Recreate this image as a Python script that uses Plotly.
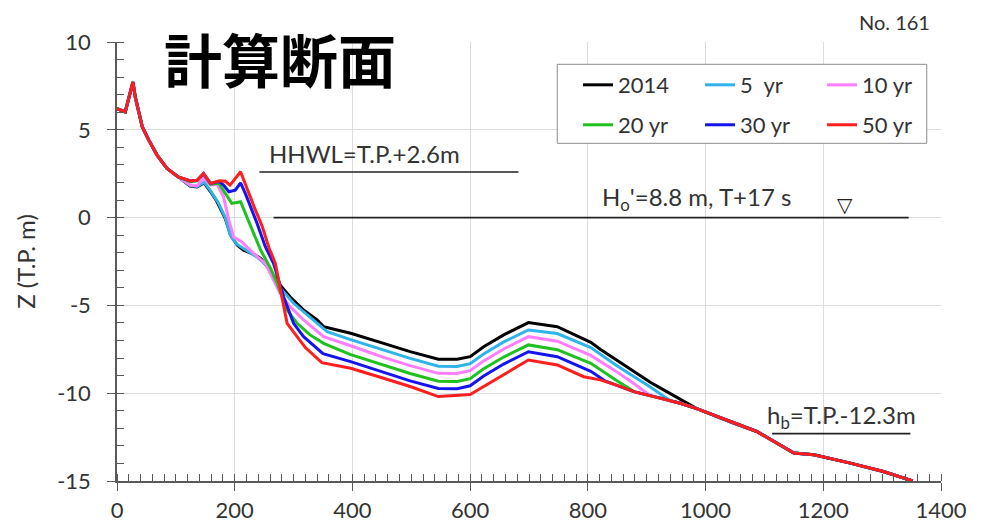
import plotly.graph_objects as go

# ---------------- data (distance from shore [m], elevation Z [T.P. m]) ----------------
# common onshore / nearshore part (all profiles identical)
X_NEAR = [0, 14, 27, 31, 43, 54, 68, 85, 104]
Z_NEAR = [6.21, 6.02, 7.72, 6.87, 5.16, 4.41, 3.56, 2.80, 2.32]

# common offshore part (all profiles identical)
X_OFF = [985, 1048, 1087, 1150, 1184, 1246, 1302, 1352]
Z_OFF = [-10.88, -11.71, -12.18, -13.41, -13.51, -13.98, -14.46, -15.0]

# series-specific middle parts
X_2014 = [124, 136, 148, 159, 170, 184, 193, 204, 215, 235, 245, 260, 277, 294, 317, 340, 351, 374, 397,
          453, 498, 546, 578, 600, 623, 657, 699, 748, 805, 821, 850, 878, 906, 934, 968]
Z_2014 = [1.79, 1.75, 1.98, 1.47, 0.90, -0.05, -1.00, -1.56, -1.85, -2.13, -2.35, -3.00, -3.84, -4.51, -5.26, -5.83, -6.21, -6.40, -6.59,
          -7.16, -7.63, -8.07, -8.07, -7.92, -7.35, -6.68, -5.98, -6.21, -7.10, -7.50, -8.15, -8.77, -9.38, -9.91, -10.57]

X_5 = [124, 136, 148, 159, 172, 184, 192, 203, 221, 238, 255, 269, 278, 300, 323, 346, 357, 397,
       453, 498, 546, 578, 600, 623, 657, 699, 748, 805, 850, 878, 906, 940, 957]
Z_5 = [1.82, 1.78, 2.02, 1.52, 0.85, 0.00, -0.95, -1.50, -1.90, -2.25, -2.75, -3.50, -4.03, -4.88, -5.55, -6.21, -6.50, -6.95,
       -7.55, -8.02, -8.46, -8.48, -8.32, -7.77, -7.08, -6.40, -6.60, -7.40, -8.45, -9.05, -9.65, -10.43, -10.57]

X_10 = [124, 136, 147, 159, 170, 181, 190, 198, 212, 232, 252, 277, 294, 317, 340, 351, 397,
        453, 498, 546, 578, 600, 623, 657, 699, 748, 805, 850, 878, 905, 923, 957]
Z_10 = [1.85, 1.80, 2.25, 1.85, 1.90, 1.18, -0.14, -1.09, -1.38, -2.04, -2.61, -4.31, -5.07, -5.83, -6.50, -6.78, -7.30,
        -7.96, -8.43, -8.87, -8.88, -8.72, -8.16, -7.48, -6.78, -7.04, -7.85, -8.80, -9.45, -10.12, -10.28, -10.57]

X_20 = [124, 136, 147, 159, 173, 184, 195, 210, 227, 244, 261, 272, 289, 306, 328, 351, 397,
        453, 498, 546, 578, 600, 623, 657, 699, 748, 805, 850, 880, 923, 957]
Z_20 = [2.05, 2.10, 2.48, 1.90, 1.95, 1.38, 0.81, 0.90, -0.52, -1.85, -2.89, -3.74, -5.26, -6.02, -6.68, -7.16, -7.80,
        -8.41, -8.88, -9.32, -9.33, -9.17, -8.61, -7.94, -7.25, -7.52, -8.30, -9.30, -9.93, -10.28, -10.57]

X_30 = [125, 136, 147, 159, 174, 181, 190, 201, 210, 218, 238, 252, 266, 283, 300, 317, 350, 397,
        453, 498, 546, 578, 600, 623, 657, 699, 748, 805, 830, 850, 878, 923, 957]
Z_30 = [2.09, 2.13, 2.51, 1.95, 2.05, 1.85, 1.47, 1.56, 1.98, 1.38, -0.33, -1.66, -2.61, -4.51, -6.02, -6.78, -7.75, -8.20,
        -8.82, -9.30, -9.73, -9.74, -9.58, -9.02, -8.34, -7.64, -7.92, -8.75, -9.32, -9.55, -9.91, -10.28, -10.57]

X_50 = [125, 136, 147, 159, 174, 184, 192, 210, 219, 233, 247, 258, 269, 280, 289, 306, 320, 348, 397,
        453, 498, 546, 578, 600, 623, 657, 699, 748, 793, 821, 850, 878, 923, 957]
Z_50 = [2.09, 2.13, 2.51, 1.95, 2.10, 2.07, 1.85, 2.61, 1.80, 0.61, -0.52, -1.70, -2.61, -4.51, -6.02, -6.78, -7.40, -8.26, -8.58,
        -9.15, -9.62, -10.19, -10.15, -10.08, -9.62, -8.96, -8.11, -8.39, -9.06, -9.24, -9.55, -9.91, -10.28, -10.57]

SERIES = [
    ("2014", X_2014, Z_2014, "#000000", "legend"),
    ("5  yr", X_5, Z_5, "#2FB4EA", "legend"),
    ("10 yr", X_10, Z_10, "#FF7EFF", "legend"),
    ("20 yr", X_20, Z_20, "#20C020", "legend2"),
    ("30 yr", X_30, Z_30, "#1414EE", "legend2"),
    ("50 yr", X_50, Z_50, "#FF1E1E", "legend2"),
]

# reference levels
HHWL = 2.6
HHWL_X = [242, 682]
H0_LEVEL = 0.0
H0_X = [266, 1345]
HB = -12.3
HB_X = [1113, 1348]

X_TICKS = [0, 200, 400, 600, 800, 1000, 1200, 1400]
X_TICKTEXT = ["0", "200", "400", "600", "800", "1000", "1200", "1400"]
Y_TICKS = [-15, -10, -5, 0, 5, 10]
Y_TICKTEXT = ["-15", "-10", "-5", "0", "5", "10"]

FONT = "Lato"
TXT = "#333333"

fig = go.Figure()
for name, xs, zs, col, lg in SERIES:
    fig.add_trace(go.Scatter(
        x=X_NEAR + xs + X_OFF, y=Z_NEAR + zs + Z_OFF, mode="lines", name=name,
        line=dict(color=col, width=3), legend=lg,
    ))

# reference level lines
fig.add_shape(type="line", x0=HHWL_X[0], x1=HHWL_X[1], y0=HHWL, y1=HHWL,
              line=dict(color="#222222", width=1.6))
fig.add_shape(type="line", x0=H0_X[0], x1=H0_X[1], y0=H0_LEVEL, y1=H0_LEVEL,
              line=dict(color="#222222", width=1.6))
fig.add_shape(type="line", x0=HB_X[0], x1=HB_X[1], y0=HB, y1=HB,
              line=dict(color="#222222", width=1.6))

# legend box
fig.add_shape(type="rect", xref="paper", yref="paper", x0=0.5343, x1=0.9827, y0=0.7692, y1=0.9492,
              fillcolor="white", line=dict(color="#8c8c8c", width=1), layer="above")

ann_font = dict(family=FONT, size=24, color=TXT)
fig.add_annotation(x=255, y=3.67, text="HHWL=T.P.+2.6m", showarrow=False,
                   xanchor="left", yanchor="middle", font=ann_font)
fig.add_annotation(x=821, y=1.1, text="H<sub>o</sub>'=8.8 m, T+17 s", showarrow=False,
                   xanchor="left", yanchor="middle", font=ann_font)
fig.add_annotation(x=1237, y=0.71, text="▽", showarrow=False,
                   xanchor="center", yanchor="middle", font=dict(family="DejaVu Sans", size=20, color="#222222"))
fig.add_annotation(x=1101, y=-11.33, text="h<sub>b</sub>=T.P.-12.3m", showarrow=False,
                   xanchor="left", yanchor="middle", font=ann_font)
fig.add_annotation(xref="paper", yref="paper", x=0.1978, y=0.9635, text="<b>計算断面</b>", showarrow=False,
                   xanchor="center", yanchor="middle",
                   font=dict(family="Noto Sans CJK JP", size=58, color="black", weight=900))
fig.add_annotation(xref="paper", yref="paper", x=0.989, y=1.0774, text="No. 161", showarrow=False,
                   xanchor="right", yanchor="top", font=dict(family=FONT, size=20, color=TXT))

axis_line = "#595959"
# the page body has an 8px margin, so the figure is 8px smaller and margins are shifted
fig.update_layout(
    width=979, height=523,
    margin=dict(l=109, r=46, t=34, b=50, autoexpand=False),
    paper_bgcolor="white", plot_bgcolor="white",
    font=dict(family=FONT, size=22, color=TXT),
    showlegend=True,
    legend=dict(orientation="h", x=0.5595, y=0.902, xanchor="left", yanchor="middle",
                bgcolor="rgba(0,0,0,0)", borderwidth=0, entrywidth=77, entrywidthmode="pixels",
                font=dict(family=FONT, size=22, color=TXT), traceorder="normal"),
    legend2=dict(orientation="h", x=0.5595, y=0.811, xanchor="left", yanchor="middle",
                 bgcolor="rgba(0,0,0,0)", borderwidth=0, entrywidth=77, entrywidthmode="pixels",
                 font=dict(family=FONT, size=22, color=TXT), traceorder="normal"),
    xaxis=dict(range=[0, 1400], tickmode="array", tickvals=X_TICKS, ticktext=X_TICKTEXT,
               showgrid=True, gridcolor="#dcdcdc",
               gridwidth=1, zeroline=False, showline=True, linecolor=axis_line, linewidth=1.5,
               ticks="outside", ticklen=8, tickwidth=1.2, tickcolor=axis_line, ticklabelstandoff=1,
               minor=dict(ticks="inside", ticklen=7, dtick=20, tick0=0, tickcolor=axis_line, tickwidth=1, showgrid=False),
               tickfont=dict(family=FONT, size=22, color=TXT), automargin=False, fixedrange=True),
    yaxis=dict(range=[-15, 10], tickmode="array", tickvals=Y_TICKS, ticktext=Y_TICKTEXT,
               showgrid=True, gridcolor="#dcdcdc",
               gridwidth=1, zeroline=False, showline=True, linecolor=axis_line, linewidth=1.5,
               ticks="outside", ticklen=8, tickwidth=1.2, tickcolor=axis_line, ticklabelstandoff=12,
               minor=dict(ticks="inside", ticklen=7, dtick=1, tick0=0, tickcolor=axis_line, tickwidth=1, showgrid=False),
               tickfont=dict(family=FONT, size=22, color=TXT),
               title=dict(text="Z (T.P. m)", font=dict(family=FONT, size=24, color=TXT), standoff=15),
               automargin=False, fixedrange=True),
    xaxis2=dict(range=[0, 1400], overlaying="x", anchor="y", side="bottom", tickmode="array", tickvals=X_TICKS,
                showticklabels=False, showgrid=False, zeroline=False, showline=False,
                ticks="inside", ticklen=8, tickwidth=1.2, tickcolor=axis_line, fixedrange=True),
    yaxis2=dict(range=[-15, 10], overlaying="y", anchor="x", side="left", tickmode="array", tickvals=Y_TICKS,
                showticklabels=False, showgrid=False, zeroline=False, showline=False,
                ticks="inside", ticklen=8, tickwidth=1.2, tickcolor=axis_line, fixedrange=True),
)

fig.write_html("out.html")
